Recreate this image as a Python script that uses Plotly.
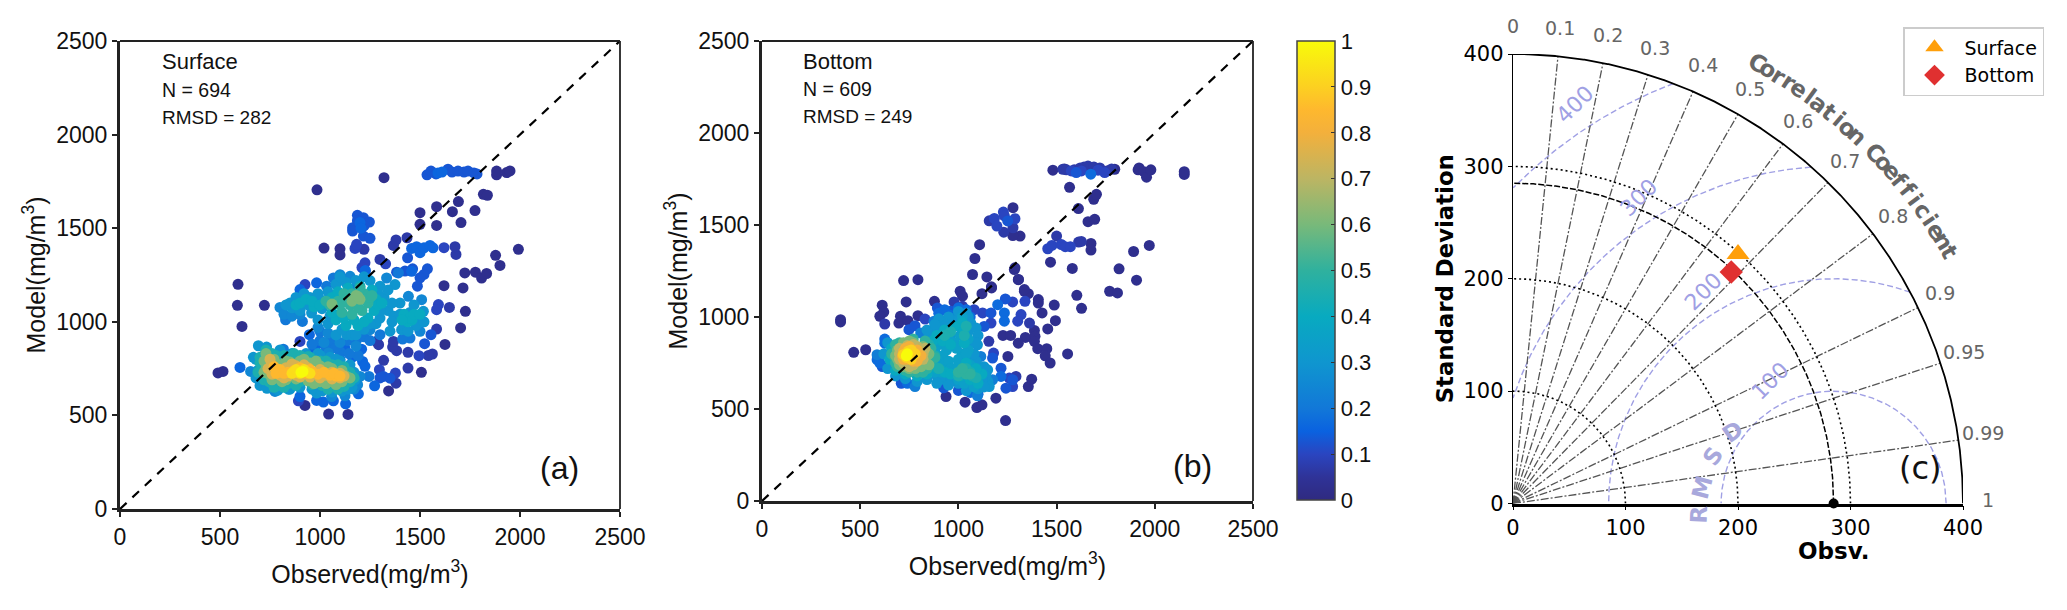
import math
import plotly.graph_objects as go

W, H = 2067, 610

# ---------- Panel (a): Surface, points grouped by normalised density ----------
surface_03 = [(490,727),(515,735),(590,1200),(587,1088),(610,975),(722,1088),(985,1705),(1320,1770),(1043,507),(1140,505),
 (1343,631),(1507,730),(1625,879),(1703,967),(1727,1056),(1715,1181),(1620,1193),(1724,1261),(1777,1265),(1808,1234),(1833,1258),
 (1878,1355),(1900,1301),(1992,1387),(1817,1681),(1837,1676),(1775,1594),(1705,1530),(1583,1515),(1500,1521),(1500,1583),(1583,1615),
 (1662,1588),(1692,1642),(1883,1785),(1883,1805),(1933,1797),(1950,1806),(1020,1394),(1100,1390),(1100,1357),(925,553)]
surface_07 = [(1380,672),(1440,753),(1440,837),(1562,828),(1542,820),(1318,794),(1293,878),(1383,846),(1647,1077),(1680,1360),(1675,1401),
 (1367,1408),(1380,1437),(1435,1449),(1300,1333),(1220,1387),(1583,961),(1363,865),(1367,895),(1283,896)]
surface_10 = [(1377,726),(1297,744),(1495,819),(900,895),(892,578),(925,1199),(1175,1392),(1183,1414),(1328,1310),(1225,1315),(1592,1092),(1583,1065),(1620,1396),(1210,1290)]
surface_13 = [(1555,931),(1523,883),(1317,708),(1350,699),(1300,700),(1383,1265),(1425,1271),(1463,1283),(1537,1283),(1520,1253),(1500,1235),(1487,1190),
 (1438,1342),(1187,1569),(1217,1556),(1247,1533),(1187,1540),(1163,1503),(1163,1485),(1220,1512),(1217,1458),(1250,1446),(1535,1785),(1555,1805),(1580,1790),(1640,1815),(1660,1800),
 (1690,1805),(1720,1800),(1740,1805),(1770,1795),(1785,1790)]
surface_16 = [(600,756),(1208,854),(1213,788),(1225,762),(1273,658),(1192,615),(1128,562),(1067,578),(1017,571),(983,580),(900,601),(947,931),(967,842),(983,878),(1125,856),(1162,812),
 (900,1172),(983,1208),(1225,1270),(1458,1270),(1458,1392),(1483,1401),(1500,1369),(1520,1395),(1550,1408),(1565,1395),(1200,1530),(1205,1500),(1590,1795),(1610,1800),(1227,1274)]
surface_20 = [(1245,708),(828,1011),(912,1002),(1000,949),(1033,887),(1058,860),(1183,904),(1300,931),(1450,913),(1413,908),(1033,1190),(1067,1234),(1392,1261),(817,854),(708,664),(1175,1180),
 (1000,900),(960,880),(1060,900),(1100,840),(1030,860),(1190,820),(1145,830),(1100,800),(1080,860),(1140,900),(1220,920),(1250,900)]
surface_25 = [(653,735),(775,628),(1058,601),(1125,605),(1188,664),(1200,708),(800,1077),(1100,1252),(1150,1243),(1333,1234),(1442,1136),(1508,1118),(1500,949),(1250,958),(1042,833),(1000,640),(1170,640),
 (820,1040),(860,1030),(900,1040),(990,970),(1040,940),(1100,890),(1180,870),(1020,890)]
surface_30 = [(692,872),(733,865),(667,810),(842,640),(983,619),(700,660),(735,645),(790,635),(850,640),(900,650),(960,640),(1010,630),(1060,625),(1110,630),(1160,650),(1175,690),(1170,730),(1150,770),(1100,790),
 (1050,810),(990,830),(850,1100),(908,1118),(958,1047),(1375,1199),(1517,1056),(1408,958),(1133,931),(860,1075),(900,1060),(940,1090),(1000,1120),(1040,1160),(1080,1200),(1130,1210),(1180,1220),(1250,1220),
 (1300,1190),(1320,1130),(1340,1060),(1300,1020),(1280,990),(1220,960),(1160,930),(1080,930),(1040,990),(990,1010),(1400,1100),(1450,1050),(1500,1020),(1480,980),(1420,980),(1370,1030),
 (830,1090),(880,1130),(920,1150),(950,1130),(990,1150),(1010,1070),(1050,1030),(1110,960),(1180,930),(1250,990),(1300,1060),(1360,1000),(1360,1100),(1400,1040),(1440,950),(1470,1090),(1520,1000),(1340,1170),
 (1290,1150),(1350,950),(1100,1240),(1220,1240),(680,800),(690,740),(680,700),(800,850),(860,830),(930,830),(1000,820),(1080,800),(1140,640)]
surface_40 = [(1020,1100),(1060,1130),(1090,1160),(1140,1180),(1200,1190),(1260,1170),(1280,1120),(1270,1060),(1240,1020),(1190,980),(1130,980),(1080,1010),(1060,1050),(970,1080),(880,1090),(1420,1040),(1460,1010),(1440,1000),
 (900,1100),(930,1120),(960,1110),(1000,1090),(1120,1020),(1170,1010),(1220,1000),(1290,1090),(1310,1100),(1450,1020),(1470,1040),(1410,1010),(1500,1040)]
surface_45 = [(715,720),(720,690),(745,680),(790,660),(840,670),(900,680),(960,665),(1010,660),(1060,660),(1120,655),(1150,680),(1150,730),(1120,760),(1060,770),(1000,790),(950,810),(900,820),(850,810),(800,790),(760,830),(720,820),(700,780),
 (700,810),(690,730),(730,850),(780,820),(820,820),(870,830),(940,815),(1030,790),(1090,770),(1170,700),(1160,710),(770,650),(820,650),(880,660),(1040,640),(1090,640)]
surface_50 = [(1050,1090),(1090,1110),(1120,1150),(1160,1150),(1220,1150),(1240,1100),(1210,1060),(1160,1040),(1110,1050),(1100,1090),(1030,1110),(1150,1090),(1190,1080),(1130,1120),(1200,1180),(1250,1130),(1260,1140)]
surface_60 = [(740,790),(770,800),(730,750),(745,720),(780,700),(830,690),(880,695),(940,685),(1000,680),(1060,680),(1110,680),(1130,710),(1110,740),(1060,750),(1000,765),(950,780),(900,790),(850,785),(800,770),
 (1180,1140),(1200,1120),(1160,1110),(1060,1095),(1190,1135),(730,830),(720,790),(720,730),(760,690),(810,680),(1150,700),(1030,670),(970,670),(1080,665),(980,790),(1040,760),(920,800),(830,790)]
surface_75 = [(760,770),(770,740),(800,715),(840,710),(880,715),(950,705),(1000,700),(1060,695),(1100,700),(1100,725),(1060,730),(1000,745),(940,755),(880,765),(830,755),
 (750,800),(740,750),(760,720),(820,700),(900,705),(920,770),(860,775),(1030,715),(1120,710),(1010,730)]
surface_85 = [(800,745),(840,730),(870,740),(930,725),(990,720),(1050,715),(1080,710),(960,735),(770,760),(780,725),(820,725),(900,755),(950,745),(1020,730),(1070,725),(1100,710)]
surface_93 = [(870,735),(900,725),(930,735),(860,725),(880,745),(920,745),(950,725)]
surface_100 = [(905,730),(915,735)]
SURFACE = [(0.03,surface_03),(0.07,surface_07),(0.10,surface_10),(0.13,surface_13),(0.16,surface_16),(0.20,surface_20),(0.25,surface_25),(0.30,surface_30),
           (0.40,surface_40),(0.45,surface_45),(0.50,surface_50),(0.60,surface_60),(0.75,surface_75),(0.85,surface_85),(0.93,surface_93),(1.0,surface_100)]

# ---------- Panel (b): Bottom ----------
bottom_03 = [(721,1198),(794,1203),(734,1082),(612,1064),(620,1027),(600,1004),(705,1004),(697,967),(743,980),(794,1007),(467,808),(528,822),(400,985),(400,973),(878,1085),(1009,1140),(1021,1113),
 (1072,1231),(1145,1218),(1120,1127),(1169,1158),(1305,1203),(1285,1258),(1336,1140),(1356,1127),(1407,1095),(1407,1076),(1488,1065),(1426,1022),(1494,980),(1455,935),(1387,927),(1390,895),(1341,889),
 (1305,858),(1387,868),(1404,828),(1450,828),(1442,789),(1467,750),(1556,799),(1603,1118),(1627,1047),(1770,1140),(1810,1131),(1907,1200),(1227,900),(1266,900),(1356,622),(1373,662),(1191,559),(1094,508),
 (1120,523),(1034,537),(937,568),(1240,437),(1108,1393),(1084,1318),(1288,1267),(1306,1204),(1168,1164),(1336,1149),(1469,1298),(1580,1264),(1675,1400),(1675,1364),(1818,1262),(1892,1356),(1972,1389),
 (1566,1705),(1611,1589),(1660,1518),(1694,1531),(1689,1640),(1703,1667),(1481,1798),(1915,1800),(1920,1810),(1945,1790),(1958,1760),(1980,1800),(2150,1775),(2150,1790),(1252,786),(1540,1805),(1796,1803),
 (1278,1594),(1314,1440),(1277,1443)]
bottom_07 = [(625,962),(1155,868),(1293,677),(1532,1803),(1550,1800),(1590,1800),(1620,1810),(1640,1815),(1660,1820),(1690,1815),(1720,1810),(1760,1795),(1780,1805),(1157,1523),(1231,1461),(1278,1485),
 (978,1082),(1021,1058),(1362,967),(1500,1440),(1612,1407),(1626,1411)]
bottom_10 = [(1276,1082),(1339,1085),(1166,967),(1123,1022),(1080,1040),(1319,1013),(1302,977),(1179,804),(1259,668),(1276,622),(1229,1570),(1183,1536),(1234,1549),(1288,1534),(1196,1494),(1455,1371),
 (1476,1389),(1524,1394),(1544,1382),(1570,1382),(1575,1794),(1626,1794),(1711,1798),(1745,1785),(830,989)]
bottom_13 = [(1239,1098),(1166,1022),(1131,949),(1174,777),(1217,722),(1242,613),(1276,659),(961,1031),(893,1049),(1251,1522),(1600,1785),(925,615),(1000,601),(709,640),(612,731),(748,931),(779,953)]
bottom_17 = [(625,880),(625,858),(586,768),(1200,1067),(1234,1022),(1234,977),(1217,677),(1674,1776),(1029,1004),(590,780),(600,750),(740,640),(1100,580),(1060,590),(900,1020),(930,1040),(960,1010),(1000,1050),(1040,1040),(1060,1000),(910,980)]
bottom_22 = [(586,795),(779,622),(1097,572),(1114,786),(1174,659),(876,977),(808,913),(950,980),(1000,1010),(1050,980)]
bottom_30 = [(640,860),(620,800),(640,720),(680,680),(730,665),(790,650),(840,660),(890,680),(930,660),(960,650),(1000,640),(1050,620),(1100,610),(1150,650),(1130,730),(1090,760),(1050,780),(1060,860),
 (1097,849),(1050,920),(1063,967),(1050,1000),(1000,990),(950,1000),(900,990),(880,940),(850,900),(960,900),(1157,622),(1149,713),(900,950),(940,960),(1000,1030),(1040,1020),(1090,940),(1100,900),(1090,860),
 (890,640),(950,630),(1040,600),(1140,680),(1120,660),(1130,620),(840,930),(880,960),(1080,800)]
bottom_35 = [(950,880),(900,850),(880,820),(920,790),(930,750),(900,750),(950,760),(960,720),(1000,740),(1060,740),(1080,700),(1000,660),(1030,640),(1080,620),(1080,660),(1100,680),(1010,900),(1050,880),(1000,950),(1020,1000),(980,860),(1020,800),(890,780),
 (940,820),(990,830),(1050,820),(1000,770),(950,700),(1040,800),(910,700),(880,700)]
bottom_40 = [(660,830),(650,770),(680,710),(730,690),(790,680),(840,690),(890,720),(930,700),(960,690),(1010,680),(1060,660),(1100,640),(1120,690),(1090,720),(1040,750),(1030,860),(1030,930),(1020,970),
 (980,950),(930,930),(890,900),(870,870),(920,870),(960,850)]
bottom_45 = [(880,790),(870,740),(900,720),(1000,680),(1030,700),(1060,700),(1070,680),(1090,670),(1040,720),(1030,900),(1040,950),(960,920),(930,900),(850,850)]
bottom_50 = [(670,790),(690,730),(730,710),(790,700),(840,720),(860,770),(860,830),(830,870),(770,880),(700,860),(1040,690),(1060,690),(1000,700),(1020,720),(680,850),(680,750),(660,800),(750,700),(820,700),(880,780)]
bottom_60 = [(690,820),(690,770),(720,730),(780,720),(820,750),(840,790),(820,840),(770,860),(720,860),(680,790),(700,740),(750,720),(810,730),(850,800),(750,870),(850,740)]
bottom_70 = [(700,800),(720,750),(770,740),(800,770),(820,800),(790,840),(740,845),(700,830),(700,770),(750,730),(820,770),(830,830),(770,850)]
bottom_80 = [(715,790),(740,770),(770,760),(790,790),(770,820),(730,830),(720,810),(720,770),(810,790),(790,820),(750,840),(790,760)]
bottom_90 = [(730,800),(750,780),(765,795),(745,815),(720,795),(760,770),(780,800),(760,820),(735,780)]
bottom_100 = [(740,800),(735,790)]
BOTTOM = [(0.03,bottom_03),(0.07,bottom_07),(0.10,bottom_10),(0.13,bottom_13),(0.17,bottom_17),(0.22,bottom_22),(0.30,bottom_30),(0.35,bottom_35),(0.40,bottom_40),(0.45,bottom_45),
          (0.50,bottom_50),(0.60,bottom_60),(0.70,bottom_70),(0.80,bottom_80),(0.90,bottom_90),(1.0,bottom_100)]

parula_like = [[0,"#2f2a80"],[0.05,"#2f3398"],[0.10,"#2a45c0"],[0.15,"#0a62e0"],[0.20,"#1278d8"],[0.30,"#0f96cf"],[0.40,"#08aac0"],[0.50,"#2fb19e"],
               [0.60,"#78b97a"],[0.70,"#bcb563"],[0.80,"#f3b03c"],[0.85,"#feb82e"],[0.90,"#fcd021"],[1.0,"#f8fb0a"]]

scatter_ticks = [0,500,1000,1500,2000,2500]
cbar_ticks = [0,0.1,0.2,0.3,0.4,0.5,0.6,0.7,0.8,0.9,1]
cbar_labels = ["0","0.1","0.2","0.3","0.4","0.5","0.6","0.7","0.8","0.9","1"]

# ---------- Panel (c): Taylor diagram ----------
obs_std = 285
corr_ticks = [0,0.1,0.2,0.3,0.4,0.5,0.6,0.7,0.8,0.9,0.95,0.99,1]
std_ticks = [0,100,200,300,400]
rmsd_levels = [100,200,300,400]
std_arcs = [100,200,300]
surface_pt = (200,222)
bottom_pt = (194,206)

fig = go.Figure()

def dom(a, b, total):
    return [a/total, b/total]

def ydom(top, bottom):
    return [1-bottom/H, 1-top/H]

SANS = "Liberation Sans"
DJ = "DejaVu Sans"
C_L, C_R, C_T, C_B = 1513, 1963, 54, 503.5

def density_panel(groups, xa, ya):
    for level, pts in groups:
        fig.add_trace(go.Scatter(x=[p[0] for p in pts], y=[p[1] for p in pts], xaxis=xa, yaxis=ya, mode="markers", showlegend=False,
                                 hoverinfo="skip", cliponaxis=False,
                                 marker=dict(size=11, color=[level]*len(pts), coloraxis="coloraxis", line=dict(width=0))))
    fig.add_trace(go.Scatter(x=[0,2500], y=[0,2500], xaxis=xa, yaxis=ya, mode="lines", showlegend=False, hoverinfo="skip",
                             line=dict(color="black", width=2.2, dash="9px,8px")))

density_panel(SURFACE, "x", "y")
density_panel(BOTTOM, "x2", "y2")

def arc(cx, cy, r):
    xs, ys = [], []
    for i in range(0, 1441):
        t = math.pi*i/1440
        x = cx+r*math.cos(t); y = cy+r*math.sin(t)
        if x >= 0 and y >= 0 and x*x+y*y <= 400*400+1:
            xs.append(x); ys.append(y)
    return xs, ys

for lv in rmsd_levels:
    xs, ys = arc(obs_std, 0, lv)
    fig.add_trace(go.Scatter(x=xs, y=ys, xaxis="x3", yaxis="y3", mode="lines", showlegend=False, hoverinfo="skip",
                             line=dict(color="#a0a0e4", width=1.4, dash="6px,3px")))
for c in corr_ticks[1:-1]:
    fig.add_trace(go.Scatter(x=[0,400*c], y=[0,400*math.sqrt(1-c*c)], xaxis="x3", yaxis="y3", mode="lines", showlegend=False, hoverinfo="skip",
                             line=dict(color="#555555", width=1.3, dash="8px,2px,2px,2px")))
for r in std_arcs:
    xs, ys = arc(0, 0, r)
    fig.add_trace(go.Scatter(x=xs, y=ys, xaxis="x3", yaxis="y3", mode="lines", showlegend=False, hoverinfo="skip",
                             line=dict(color="black", width=1.6, dash="2px,3px")))
xs, ys = arc(0, 0, obs_std)
fig.add_trace(go.Scatter(x=xs, y=ys, xaxis="x3", yaxis="y3", mode="lines", showlegend=False, hoverinfo="skip",
                         line=dict(color="black", width=1.5, dash="6px,2px")))
xs, ys = arc(0, 0, 400)
fig.add_trace(go.Scatter(x=xs, y=ys, xaxis="x3", yaxis="y3", mode="lines", showlegend=False, hoverinfo="skip", cliponaxis=False,
                         line=dict(color="black", width=1.8)))
fig.add_trace(go.Scatter(x=[obs_std], y=[0], xaxis="x3", yaxis="y3", mode="markers", showlegend=False, hoverinfo="skip", cliponaxis=False,
                         marker=dict(color="black", size=10)))
fig.add_trace(go.Scatter(x=[surface_pt[0]], y=[surface_pt[1]], xaxis="x3", yaxis="y3", mode="markers", name="Surface", cliponaxis=False,
                         marker=dict(symbol="triangle-up", color="#ff9f0a", size=20)))
fig.add_trace(go.Scatter(x=[bottom_pt[0]], y=[bottom_pt[1]], xaxis="x3", yaxis="y3", mode="markers", name="Bottom", cliponaxis=False,
                         marker=dict(symbol="diamond", color="#e03030", size=18)))

ann = []
def note(x, y, text, xr, yr, size, color="#111", family=SANS, anchor="left", angle=0, bold=False):
    ann.append(dict(x=x, y=y, xref=xr, yref=yr, text=f"<b>{text}</b>" if bold else text, showarrow=False, xanchor=anchor, yanchor="middle",
                    font=dict(size=size, color=color, family=family), textangle=angle, align="center"))

def cnote(x, y, text, size, color, bold=False, angle=0):
    # Taylor labels lie outside the axis range, so they are placed in paper units via the panel's scale.
    xp = (C_L+x/400*(C_R-C_L))/W
    yp = 1-(C_B-y/400*(C_B-C_T))/H
    note(xp, yp, text, "paper", "paper", size, color=color, family=DJ, anchor="center", angle=angle, bold=bold)

note(200, 2390, "Surface", "x", "y", 22)
note(200, 2240, "N = 694", "x", "y", 19.5)
note(200, 2090, "RMSD = 282", "x", "y", 19)
note(2197, 218, "(a)", "x", "y", 32, anchor="center")
note(200, 2388, "Bottom", "x2", "y2", 22)
note(200, 2240, "N = 609", "x2", "y2", 19.5)
note(200, 2090, "RMSD = 249", "x2", "y2", 19)
note(2190, 190, "(b)", "x2", "y2", 32, anchor="center")
cnote(362, 32, "(c)", 32, "#111")
cnote(obs_std, -42, "Obsv.", 23, "black", bold=True)

for c in corr_ticks:
    s = math.sqrt(1-c*c)
    cnote(422*c, 422*s+3, str(c), 19, "#666666")

# Curved label, one letter at a time along the outer arc
title_letters = "Correlation Coefficient"
for i, ch in enumerate(title_letters):
    if ch == " ":
        continue
    th = 61 - 31*i/(len(title_letters)-1)
    cnote(448*math.cos(math.radians(th)), 448*math.sin(math.radians(th)), ch, 23, "#666666", bold=True, angle=90-th)

for ch, x, y, rot in [("R",165,-10,-88),("M",168,14,-75),("S",178,42,-55),("D",195,64,-35)]:
    cnote(x, y, ch, 23, "#a8a8dc", bold=True, angle=rot)

for txt, x, y in [("400",55,355),("300",112,272),("200",169,189),("100",228,109)]:
    cnote(x, y, txt, 22, "#a0a0e4", angle=-45)

def sc_axis(anchor, domain, title, standoff):
    return dict(domain=domain, anchor=anchor, range=[0,2500], tickvals=scatter_ticks, ticks="outside", ticklen=5, tickwidth=1.5, tickcolor="#222",
                showline=True, mirror=False, linecolor="#222", linewidth=3, showgrid=False, zeroline=False, automargin=False,
                tickfont=dict(family=SANS, size=23, color="#111"),
                title=dict(text=title, font=dict(family=SANS, size=25, color="#111"), standoff=standoff))

spines = []
for xa, ya in [("x","y"),("x2","y2")]:
    spines.append(dict(type="line", xref=f"{xa} domain", yref=f"{ya} domain", x0=0, x1=1, y0=1, y1=1, line=dict(color="#222", width=1.8)))
    spines.append(dict(type="line", xref=f"{xa} domain", yref=f"{ya} domain", x0=1, x1=1, y0=0, y1=1, line=dict(color="#222", width=1.8)))

tx = dict(family=DJ, size=21, color="black")
fig.update_layout(
    width=W, height=H, autosize=False, margin=dict(l=0,r=0,t=0,b=0,autoexpand=False), plot_bgcolor="white", paper_bgcolor="white",
    annotations=ann, shapes=spines,
    xaxis=sc_axis("y", dom(120,620,W), "Observed(mg/m<sup>3</sup>)", 17),
    yaxis=sc_axis("x", ydom(41,509), "Model(mg/m<sup>3</sup>)", 4),
    xaxis2=sc_axis("y2", dom(762,1253,W), "Observed(mg/m<sup>3</sup>)", 17),
    yaxis2=sc_axis("x2", ydom(41,501), "Model(mg/m<sup>3</sup>)", 4),
    xaxis3=dict(domain=dom(C_L,C_R,W), anchor="y3", range=[0,400], tickvals=std_ticks, ticks="outside", ticklen=4, tickcolor="black", showline=True,
                linecolor="black", linewidth=2.5, showgrid=False, zeroline=False, tickfont=tx, automargin=False),
    yaxis3=dict(domain=ydom(C_T,C_B), anchor="x3", range=[0,400], tickvals=std_ticks, ticks="outside", ticklen=4, tickcolor="black", showline=True,
                linecolor="black", linewidth=1.4, showgrid=False, zeroline=False, tickfont=tx, automargin=False,
                title=dict(text="<b>Standard Deviation</b>", font=dict(family=DJ, size=22.8, color="black"), standoff=3)),
    coloraxis=dict(cmin=0, cmax=1, colorscale=parula_like,
                   colorbar=dict(x=1297/W, xanchor="left", y=1-500/H, yanchor="bottom", lenmode="fraction", len=459/H, thicknessmode="pixels", thickness=38,
                                 tickvals=cbar_ticks, ticktext=cbar_labels, ticks="inside", ticklen=4, tickcolor="#333", tickwidth=1.2,
                                 outlinecolor="#444", outlinewidth=1.5, xpad=0, ypad=0, tickfont=dict(family=SANS, size=22, color="#111"))),
    legend=dict(x=1903/W, y=1-27/H, xanchor="left", yanchor="top", bgcolor="white", bordercolor="#cccccc", borderwidth=1.5,
                font=dict(family=DJ, size=19, color="black"), itemwidth=50, tracegroupgap=2),
)

fig.write_html("out.html", config=dict(displayModeBar=False), post_script="document.body.style.margin='0';document.body.style.overflow='hidden';")
